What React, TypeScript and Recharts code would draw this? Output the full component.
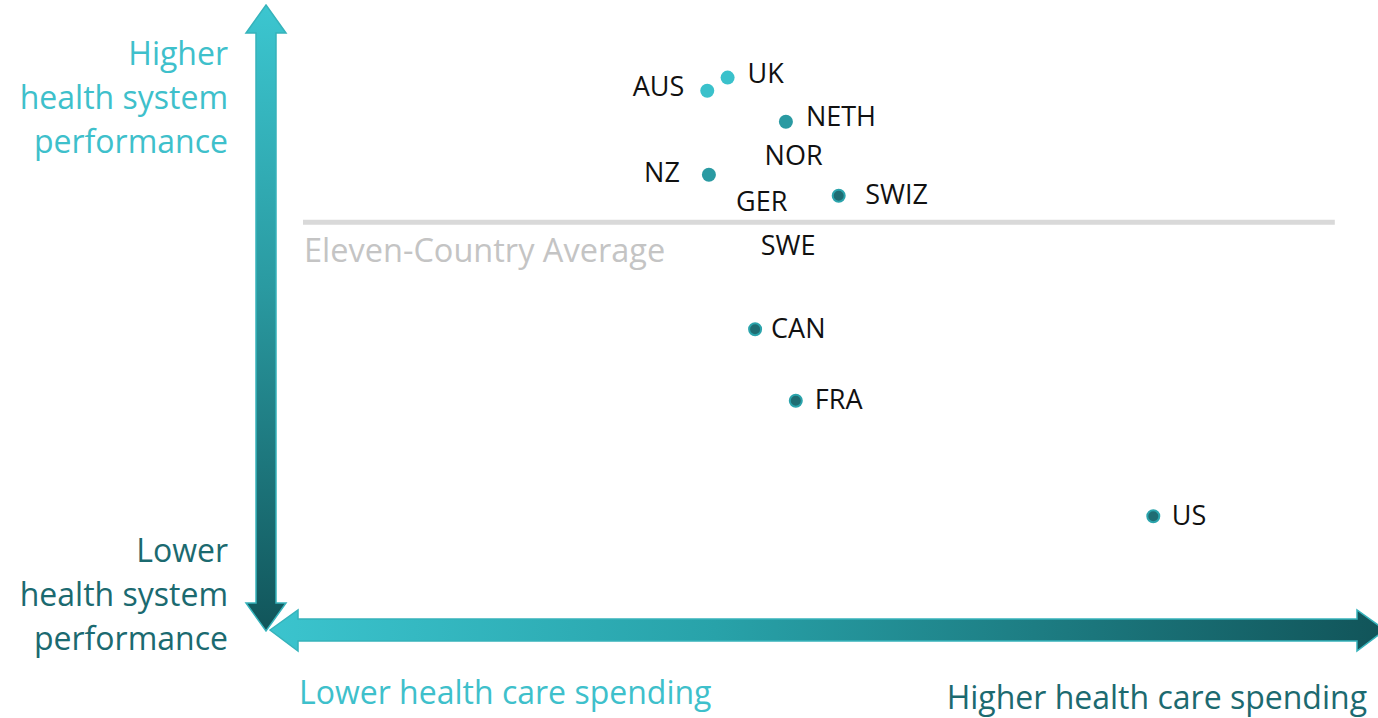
import React from 'react';
import { ScatterChart, Scatter, XAxis, YAxis, ReferenceLine, Customized } from 'recharts';

// ---- data ----
const countries = ['AUS', 'UK', 'NETH', 'NOR', 'NZ', 'SWIZ', 'GER', 'SWE', 'CAN', 'FRA', 'US'];
const spending = [39.75, 41.6, 46.9, 47.6, 39.9, 51.7, 44.7, 47.1, 44.1, 47.8, 80.3];
const performance = [88.2, 90.4, 83.05, 77.5, 74.2, 70.7, 69.8, 62.5, 48.45, 36.55, 17.3];
const averagePerformance = 66.3;
const averageSpan = [3, 96.8];
const xDomain = [0, 100];
const yDomain = [0, 100];
const averageLabel = 'Eleven-Country Average';
const yHighLabel = ['Higher', 'health system', 'performance'];
const yLowLabel = ['Lower', 'health system', 'performance'];
const xLowLabel = 'Lower health care spending';
const xHighLabel = 'Higher health care spending';

const points = countries.map((c, i) => ({ name: c, x: spending[i], y: performance[i] }));

// ---- styles ----
const LIGHT = '#3ac1cb';
const MID = '#2a9aa2';
const DARK = '#1f6d73';
const RING = '#2ba4ac';
const FONT = '"Open Sans", sans-serif';

type DotStyle = { fill: string; stroke?: string; r: number } | null;
const dotStyles: Record<string, DotStyle> = {
  AUS: { fill: LIGHT, r: 7 },
  UK: { fill: LIGHT, r: 7 },
  NETH: { fill: MID, r: 7 },
  NOR: null,
  NZ: { fill: MID, r: 7 },
  SWIZ: { fill: DARK, stroke: RING, r: 6 },
  GER: null,
  SWE: null,
  CAN: { fill: DARK, stroke: RING, r: 6 },
  FRA: { fill: DARK, stroke: RING, r: 6 },
  US: { fill: DARK, stroke: RING, r: 6 },
};

type LabelStyle = { anchor: 'start' | 'end' | 'middle'; dx: number; dy: number };
const labelStyles: Record<string, LabelStyle> = {
  AUS: { anchor: 'end', dx: -23, dy: 5 },
  UK: { anchor: 'start', dx: 20, dy: 5.6 },
  NETH: { anchor: 'start', dx: 20, dy: 4 },
  NOR: { anchor: 'middle', dx: 0, dy: 9.6 },
  NZ: { anchor: 'end', dx: -29, dy: 7 },
  SWIZ: { anchor: 'start', dx: 26.5, dy: 8.4 },
  GER: { anchor: 'middle', dx: 0, dy: 9.6 },
  SWE: { anchor: 'middle', dx: 0, dy: 9.6 },
  CAN: { anchor: 'start', dx: 16, dy: 8.6 },
  FRA: { anchor: 'start', dx: 19, dy: 8.6 },
  US: { anchor: 'start', dx: 18.5, dy: 8.3 },
};

const CountryDot = (props: any) => {
  const { cx, cy, payload } = props;
  const name = payload.name as string;
  const d = dotStyles[name];
  const l = labelStyles[name];
  return (
    <g>
      {d && (
        <circle cx={cx} cy={cy} r={d.r} fill={d.fill} stroke={d.stroke || 'none'} strokeWidth={d.stroke ? 2 : 0} />
      )}
      <text x={cx + l.dx} y={cy + l.dy} textAnchor={l.anchor} fontFamily={FONT} fontSize={27} fill="#111">
        {name}
      </text>
    </g>
  );
};

const Decorations = () => (
  <g>
    <defs>
      <linearGradient id="vGrad" x1="0" y1="0" x2="0" y2="1">
        <stop offset="0%" stopColor="#3cc6d0" />
        <stop offset="45%" stopColor="#2a9aa1" />
        <stop offset="100%" stopColor="#11555a" />
      </linearGradient>
      <linearGradient id="hGrad" x1="0" y1="0" x2="1" y2="0">
        <stop offset="0%" stopColor="#3bc4ce" />
        <stop offset="40%" stopColor="#28a2a9" />
        <stop offset="100%" stopColor="#115459" />
      </linearGradient>
    </defs>
    <polygon
      points="266,5 286,33 276,33 276,603 286,603 266,631 246,603 256,603 256,33 246,33"
      fill="url(#vGrad)"
      stroke="#36b3bb"
      strokeWidth={1.5}
    />
    <polygon
      points="270,630 298,610 298,619 1357,619 1357,610 1385,630 1357,651 1357,641 298,641 298,651"
      fill="url(#hGrad)"
      stroke="#36b3bb"
      strokeWidth={1.5}
    />
    <text x={228} textAnchor="end" fontFamily={FONT} fontSize={32} fill="#3ec0cb">
      {yHighLabel.map((t, i) => (
        <tspan key={t} x={228} y={64.5 + i * 44}>{t}</tspan>
      ))}
    </text>
    <text x={228} textAnchor="end" fontFamily={FONT} fontSize={32} fill="#1b6a70">
      {yLowLabel.map((t, i) => (
        <tspan key={t} x={228} y={561.5 + i * 44}>{t}</tspan>
      ))}
    </text>
    <text x={299} y={703.5} fontFamily={FONT} fontSize={32} fill="#3ec0cb">{xLowLabel}</text>
    <text x={1367} y={708.5} textAnchor="end" fontFamily={FONT} fontSize={32} fill="#1c6a70">{xHighLabel}</text>
  </g>
);

const AvgLabel = (props: any) => {
  const vb = props.viewBox || {};
  return (
    <text x={(vb.x ?? 303) + 1} y={(vb.y ?? 222) + 40} fontFamily={FONT} fontSize={32.5} fill="#c4c4c4">
      {averageLabel}
    </text>
  );
};

export default function App() {
  return (
    <div style={{ position: 'absolute', left: 0, top: 0, width: 1378, height: 718, background: '#fff' }}>
      <ScatterChart width={1378} height={718} margin={{ top: 20, right: 8, bottom: 98, left: 270 }}>
        <XAxis type="number" dataKey="x" domain={xDomain} hide />
        <YAxis type="number" dataKey="y" domain={yDomain} hide />
        <Customized component={Decorations} />
        <ReferenceLine
          segment={[
            { x: averageSpan[0], y: averagePerformance },
            { x: averageSpan[1], y: averagePerformance },
          ]}
          stroke="#d9d9d9"
          strokeWidth={5}
          label={<AvgLabel />}
        />
        <Scatter data={points} shape={<CountryDot />} isAnimationActive={false} />
      </ScatterChart>
    </div>
  );
}
